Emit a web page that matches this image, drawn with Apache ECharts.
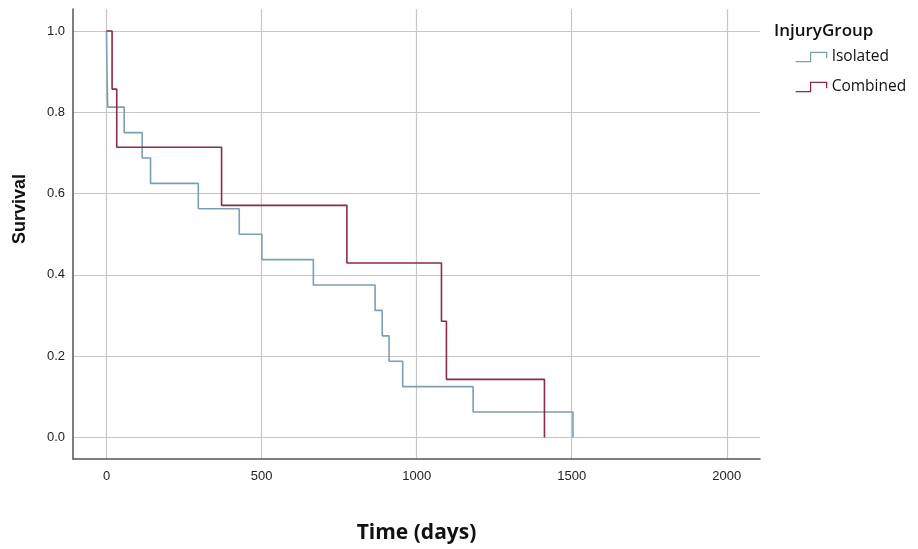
<!DOCTYPE html>
<html>
<head>
    <meta charset="utf-8">
    <title>Survival by InjuryGroup</title>
    <script src="https://cdn.jsdelivr.net/npm/echarts@6/dist/echarts.min.js"></script>
    <style>
        html, body { margin: 0; padding: 0; background: #fff; }
    </style>
</head>
<body>
<div id="chart-container" style="width: 918px; height: 549px;"></div>
<script>
    // Kaplan-Meier steps (time in days, survival)
    var isolatedTime = [0, 1, 2, 4, 57, 115, 142, 296, 428, 501, 667, 866, 889, 911, 955, 1182, 1504];
    var isolatedSurv = [1, 0.9375, 0.875, 0.8125, 0.75, 0.6875, 0.625, 0.5625, 0.5, 0.4375, 0.375, 0.3125, 0.25, 0.1875, 0.125, 0.0625, 0];

    var combinedTime = [0, 18, 33, 371, 775, 1080, 1096, 1412];
    var combinedSurv = [1, 0.857, 0.714, 0.571, 0.429, 0.286, 0.143, 0];

    var groupNames = ['Isolated', 'Combined'];
    var groupColors = ['#7d9fb2', '#8b2b47'];

    // tick labels
    var xTicks = [0, 500, 1000, 1500, 2000];
    var yTicks = [0, 0.2, 0.4, 0.6, 0.8, 1.0];

    function pairs(t, s) {
        return t.map(function (v, i) { return [v, s[i]]; });
    }

    // small step-shaped legend icon
    var stepIcon = 'path://M0,9 L13,9 L13,1 L27,1 L27,6';

    var option = {
        backgroundColor: '#fff',
        animation: false,
        grid: {
            left: 73,
            top: 9,
            right: 158,
            bottom: 89
        },
        title: {
            text: 'InjuryGroup',
            left: 769,
            top: 18,
            textStyle: {
                fontFamily: 'Open Sans',
                fontSize: 17,
                fontWeight: 600,
                color: '#111'
            }
        },
        // y axis title sits a little above the axis centre in the original
        graphic: [{
            type: 'text',
            x: 20,
            y: 209,
            rotation: Math.PI / 2,
            style: {
                text: 'Survival',
                align: 'center',
                verticalAlign: 'middle',
                fontFamily: 'Liberation Sans',
                fontSize: 18,
                fontWeight: 'bold',
                fill: '#111'
            }
        }],
        legend: {
            orient: 'vertical',
            left: 790,
            top: 44,
            itemWidth: 31,
            itemHeight: 10,
            itemGap: 14,
            icon: stepIcon,
            data: groupNames.map(function (n, i) {
                return {
                    name: n,
                    itemStyle: {
                        color: 'transparent',
                        borderColor: groupColors[i],
                        borderWidth: 1.3
                    }
                };
            }),
            textStyle: {
                fontFamily: 'Open Sans',
                fontSize: 15.5,
                color: '#111'
            }
        },
        xAxis: {
            type: 'value',
            min: -108,
            max: 2107,
            name: 'Time (days)',
            nameLocation: 'middle',
            nameGap: 64,
            nameTextStyle: {
                fontFamily: 'Open Sans',
                fontSize: 21,
                fontWeight: 'bold',
                color: '#111'
            },
            axisLine: {
                onZero: false,
                lineStyle: { color: '#555', width: 1.5 }
            },
            axisTick: { show: false, customValues: xTicks },
            axisLabel: {
                customValues: xTicks,
                margin: 11,
                fontFamily: 'Liberation Sans',
                fontSize: 13,
                color: '#222',
                formatter: function (v) { return String(v); }
            },
            splitLine: {
                show: true,
                lineStyle: { color: '#c6c6c6', width: 1.2 }
            }
        },
        yAxis: {
            type: 'value',
            min: -0.053,
            max: 1.054,
            axisLine: {
                show: true,
                onZero: false,
                lineStyle: { color: '#555', width: 1.5 }
            },
            axisTick: { show: false, customValues: yTicks },
            axisLabel: {
                customValues: yTicks,
                margin: 8,
                fontFamily: 'Liberation Sans',
                fontSize: 13,
                color: '#222',
                formatter: function (v) { return v.toFixed(1); }
            },
            splitLine: {
                show: true,
                lineStyle: { color: '#c6c6c6', width: 1.2 }
            }
        },
        series: [
            {
                name: groupNames[0],
                type: 'line',
                step: 'end',
                showSymbol: false,
                symbol: 'none',
                color: groupColors[0],
                lineStyle: { width: 1.6, color: groupColors[0] },
                data: pairs(isolatedTime, isolatedSurv)
            },
            {
                name: groupNames[1],
                type: 'line',
                step: 'end',
                showSymbol: false,
                symbol: 'none',
                color: groupColors[1],
                lineStyle: { width: 1.6, color: groupColors[1] },
                data: pairs(combinedTime, combinedSurv)
            }
        ]
    };

    var chart = echarts.init(document.getElementById('chart-container'));
    chart.setOption(option);
</script>
</body>
</html>
